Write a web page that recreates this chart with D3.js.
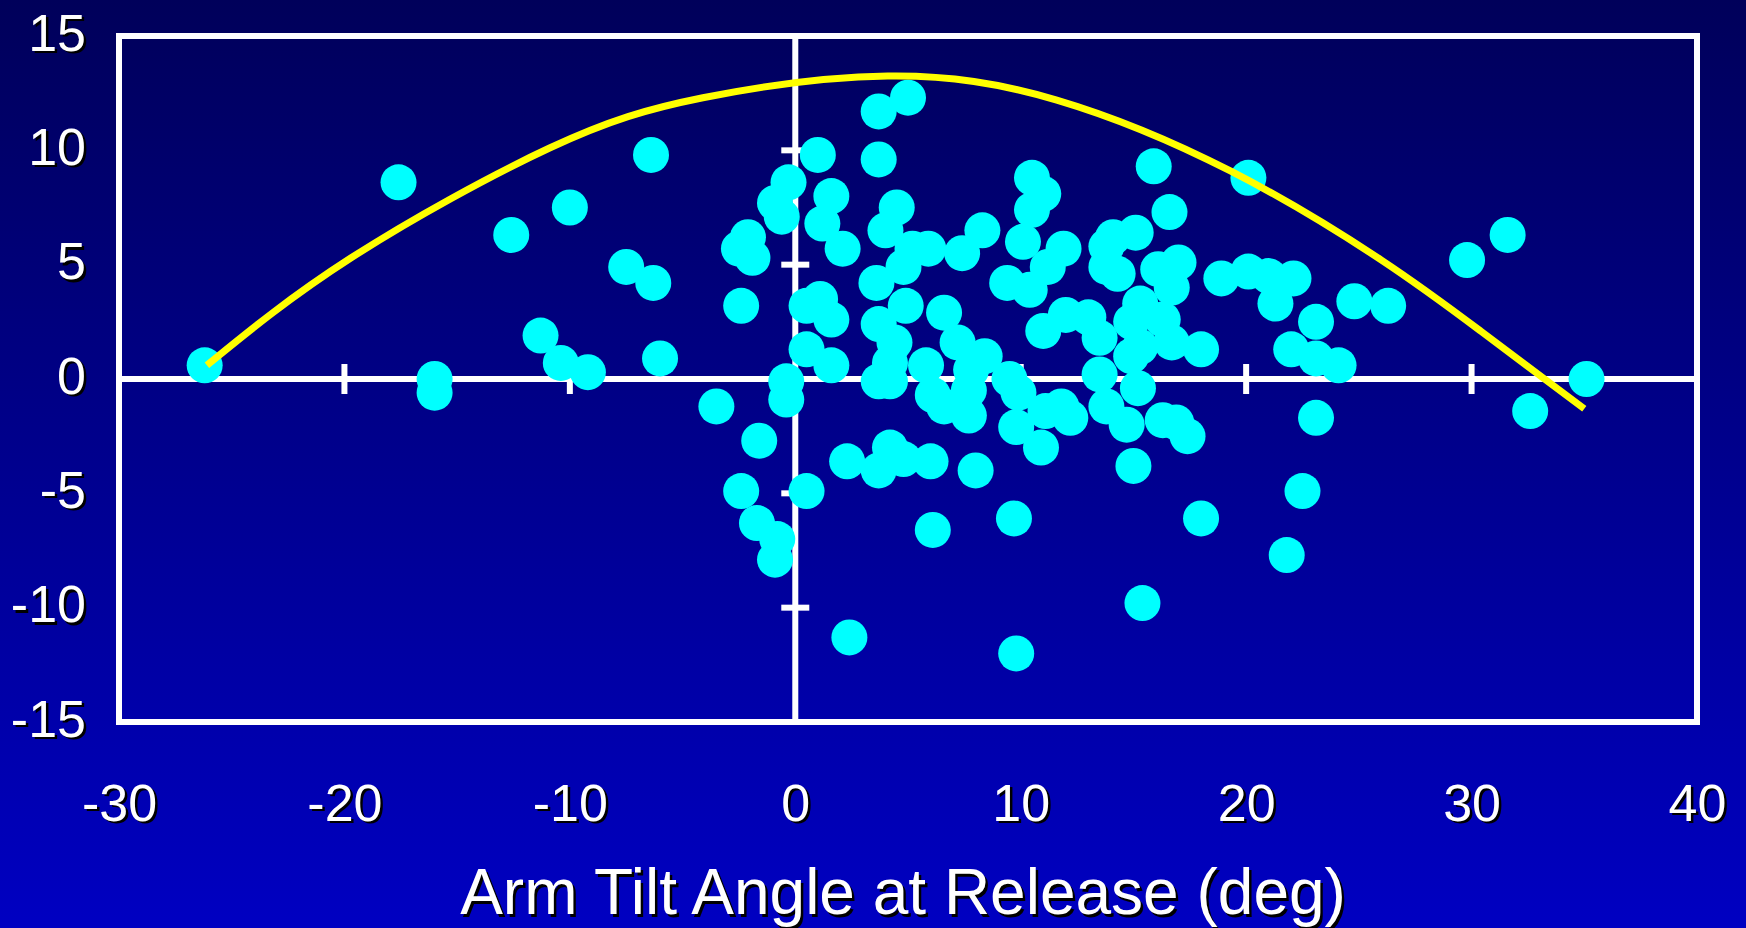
<!DOCTYPE html>
<html>
<head>
<meta charset="utf-8">
<script src="https://cdn.jsdelivr.net/npm/d3@7"></script>
<style>
    body { margin: 0; background: #00005a; overflow: hidden; }
    text { font-family: Arial, "Liberation Sans", sans-serif; }
</style>
</head>
<body>
<div id="chart-area"></div>
<script>
// Tick labels
var xTicks = [-30, -20, -10, 0, 10, 20, 30, 40];
var yTicks = [-15, -10, -5, 0, 5, 10, 15];
var xMarks = [-20, -10, 10, 20, 30];
var yMarks = [-10, -5, 5, 10];

// Scatter points (arm tilt angle, y value)
var tiltAngle = [
    -26.2, -17.6, -16.0, -16.0, -12.6, -10.0, -11.3, -10.4, -9.2, -7.5,
    -6.4, -6.3, -6.0, -3.5, -2.1, -2.5, -1.9, -2.4, -1.6, -2.4,
    -1.7, -0.8, -0.9, -0.9, -0.3, -0.6, -0.4, -0.4, 1.0, 3.7,
    5.0, 3.7, 1.6, 1.2, 2.1, 4.5, 4.0, 8.3, 5.2, 5.9,
    7.4, 4.8, 3.6, 10.5, 11.0, 10.5, 10.1, 11.9, 11.2, 9.4,
    10.4, 11.0, 0.5, 1.1, 1.6, 4.9, 3.7, 4.4, 4.2, 3.7,
    4.2, 6.6, 7.2, 5.8, 8.4, 7.8, 9.5, 6.1, 6.6, 7.7,
    7.7, 9.9, 9.8, 0.5, 1.6, 4.2, 0.5, 2.3, 3.7, 4.8,
    6.0, 8.0, 2.4, 6.1, 9.7, 9.8, 10.9, 11.1, 11.8, 12.2,
    15.9, 16.6, 20.1, 14.1, 15.1, 13.8, 13.8, 14.3, 16.1, 17.0,
    16.7, 15.3, 14.9, 16.3, 16.7, 18.0, 15.3, 14.9, 13.5, 15.2,
    12.0, 13.0, 13.5, 18.9, 20.1, 21.0, 22.1, 21.3, 24.8, 26.3,
    23.1, 22.0, 23.1, 24.1, 23.1, 13.8, 14.7, 16.3, 16.9, 17.4,
    15.0, 18.0, 15.4, 22.5, 21.8, 29.8, 31.6, 35.1, 32.6
];
var releaseValue = [
    0.6, 8.6, 0.0, -0.6, 6.3, 7.5, 1.9, 0.7, 0.3, 4.9,
    9.8, 4.2, 0.9, -1.2, 6.2, 5.7, 5.3, 3.2, -2.7, -4.9,
    -6.3, -7.0, -7.9, 7.7, 8.6, 7.1, -0.1, -0.9, 9.8, 11.7,
    12.3, 9.6, 8.0, 6.8, 5.7, 7.5, 6.5, 6.5, 5.7, 5.7,
    5.5, 4.9, 4.2, 8.8, 8.1, 7.4, 6.0, 5.7, 4.9, 4.2,
    3.9, 2.1, 3.2, 3.5, 2.6, 3.2, 2.4, 1.6, 0.7, -0.1,
    -0.1, 2.9, 1.6, 0.6, 1.0, 0.4, 0.0, -0.7, -1.2, -0.5,
    -1.6, -0.6, -2.1, 1.3, 0.6, -3.0, -4.9, -3.6, -4.0, -3.5,
    -3.6, -4.0, -11.3, -6.6, -6.1, -12.0, -3.0, -1.4, -1.2, -1.7,
    9.3, 7.3, 8.8, 6.2, 6.4, 5.8, 4.9, 4.6, 4.8, 5.1,
    4.0, 3.3, 2.5, 2.6, 1.6, 1.3, 1.4, 1.0, 0.2, -0.4,
    2.8, 2.7, 1.8, 4.4, 4.7, 4.5, 4.4, 3.3, 3.4, 3.2,
    2.5, 1.3, 0.9, 0.6, -1.7, -1.2, -2.0, -1.8, -1.9, -2.5,
    -3.8, -6.1, -9.8, -4.9, -7.7, 5.2, 6.3, 0.0, -1.4
];

// Fitted curve, points
var fitX = [-26.1, -19.7, -10.9, -4.1, 4.1, 11.6, 19.3, 26.0, 30.4, 35.0];
var fitY = [0.6, 5.3, 10.1, 12.3, 13.25, 12.2, 9.1, 5.2, 2.1, -1.3];

var margin = { left:119, right:49, top:36, bottom:206 };
var width = 1746 - margin.left - margin.right,
    height = 928 - margin.top - margin.bottom;

var svg = d3.select("#chart-area")
    .append("svg")
        .attr("width", 1746)
        .attr("height", 928);

// Background gradient
var grad = svg.append("defs").append("linearGradient")
    .attr("id", "bg")
    .attr("x1", 0).attr("y1", 0).attr("x2", 0).attr("y2", 1);
grad.append("stop").attr("offset", "0%").attr("stop-color", "#00005a");
grad.append("stop").attr("offset", "100%").attr("stop-color", "#0000c2");

svg.append("rect")
    .attr("width", 1746)
    .attr("height", 928)
    .attr("fill", "url(#bg)");

var g = svg.append("g")
    .attr("transform", "translate(" + margin.left + ", " + margin.top + ")");

var x = d3.scaleLinear().domain([-30, 40]).range([0, width]);
var y = d3.scaleLinear().domain([-15, 15]).range([height, 0]);

// plain hyphen for negatives, like the original
var fmt = function(d){ return String(d); };

// Labels with a dark drop shadow
function labelAxes(color, off) {
    var xa = g.append("g")
        .attr("transform", "translate(" + off + "," + (height + off) + ")")
        .call(d3.axisBottom(x).tickValues(xTicks).tickFormat(fmt).tickSize(0).tickPadding(62));
    var ya = g.append("g")
        .attr("transform", "translate(" + off + "," + off + ")")
        .call(d3.axisLeft(y).tickValues(yTicks).tickFormat(fmt).tickSize(0).tickPadding(33));
    [xa, ya].forEach(function(a) {
        a.select(".domain").remove();
        a.attr("font-size", 52)
            .attr("font-family", "Arial, 'Liberation Sans', sans-serif")
            .attr("color", color);
    });
    ya.selectAll("text").attr("dy", "0.27em");

    g.append("text")
        .attr("x", width / 2 - 5 + off)
        .attr("y", 878 + off)
        .attr("font-size", 64)
        .attr("text-anchor", "middle")
        .attr("fill", color)
        .text("Arm Tilt Angle at Release (deg)");
}
labelAxes("#000000", 2.5);
labelAxes("#ffffff", 0);

// Frame
g.append("rect")
    .attr("width", width)
    .attr("height", height)
    .attr("fill", "none")
    .attr("stroke", "#ffffff")
    .attr("stroke-width", 6);

// Zero lines
g.append("line")
    .attr("x1", 0).attr("x2", width)
    .attr("y1", y(0)).attr("y2", y(0))
    .attr("stroke", "#ffffff").attr("stroke-width", 6);
g.append("line")
    .attr("x1", x(0)).attr("x2", x(0))
    .attr("y1", 0).attr("y2", height)
    .attr("stroke", "#ffffff").attr("stroke-width", 6);

// Cross ticks on zero lines
g.selectAll(".xmark")
    .data(xMarks)
    .enter().append("line")
        .attr("class", "xmark")
        .attr("x1", function(d){ return x(d); })
        .attr("x2", function(d){ return x(d); })
        .attr("y1", y(0) - 15)
        .attr("y2", y(0) + 15)
        .attr("stroke", "#ffffff").attr("stroke-width", 6);
g.selectAll(".ymark")
    .data(yMarks)
    .enter().append("line")
        .attr("class", "ymark")
        .attr("x1", x(0) - 14)
        .attr("x2", x(0) + 14)
        .attr("y1", function(d){ return y(d); })
        .attr("y2", function(d){ return y(d); })
        .attr("stroke", "#ffffff").attr("stroke-width", 6);

// Points
var points = tiltAngle.map(function(d, i){ return { a: d, v: releaseValue[i] }; });
g.selectAll("circle")
    .data(points)
    .enter().append("circle")
        .attr("cx", function(d){ return x(d.a); })
        .attr("cy", function(d){ return y(d.v); })
        .attr("r", 18)
        .attr("fill", "#00ffff");

// Fit curve
var fit = fitX.map(function(d, i){ return [d, fitY[i]]; });
var line = d3.line()
    .x(function(d){ return x(d[0]); })
    .y(function(d){ return y(d[1]); })
    .curve(d3.curveNatural);
g.append("path")
    .datum(fit)
    .attr("d", line)
    .attr("fill", "none")
    .attr("stroke", "#ffff00")
    .attr("stroke-width", 7)
    .attr("stroke-linecap", "butt");
</script>
</body>
</html>
